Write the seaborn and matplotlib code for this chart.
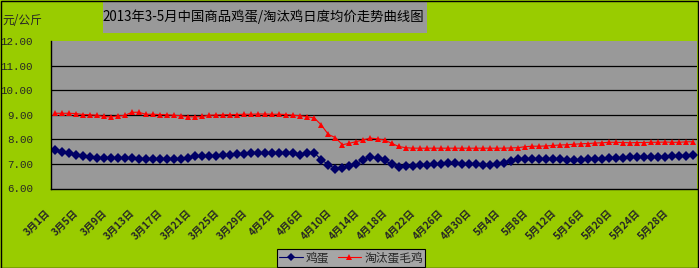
import numpy as np
import pandas as pd
import matplotlib
matplotlib.use("Agg")
import matplotlib.pyplot as plt
from matplotlib.lines import Line2D
from matplotlib.patches import Rectangle
from matplotlib.transforms import ScaledTranslation
import seaborn as sns

# ---------------- data ----------------
egg = [7.55, 7.50, 7.44, 7.37, 7.33, 7.28, 7.23, 7.26, 7.26, 7.26,
       7.25, 7.23, 7.22, 7.22, 7.22, 7.20, 7.19, 7.18, 7.19, 7.23,
       7.31, 7.33, 7.33, 7.34, 7.37, 7.37, 7.40, 7.42, 7.43, 7.45,
       7.46, 7.46, 7.46, 7.46, 7.44, 7.37, 7.44, 7.45, 7.17, 6.97,
       6.80, 6.82, 6.90, 7.01, 7.17, 7.27, 7.24, 7.15, 6.98, 6.87,
       6.90, 6.92, 6.95, 6.97, 7.00, 7.01, 7.02, 7.02, 7.01, 7.00,
       6.98, 6.97, 6.95, 6.98, 7.05, 7.12, 7.20, 7.21, 7.21, 7.21,
       7.20, 7.20, 7.19, 7.17, 7.16, 7.17, 7.18, 7.20, 7.22, 7.24,
       7.25, 7.26, 7.27, 7.28, 7.28, 7.29, 7.30, 7.30, 7.31, 7.32,
       7.33, 7.35]
hen = [9.06, 9.06, 9.06, 9.05, 9.01, 9.00, 8.98, 8.93, 8.91, 8.95,
       8.97, 9.10, 9.10, 9.02, 9.02, 9.01, 9.00, 8.98, 8.96, 8.92,
       8.91, 8.93, 8.98, 8.99, 9.00, 9.00, 9.01, 9.02, 9.02, 9.03,
       9.03, 9.02, 9.02, 9.01, 8.98, 8.96, 8.92, 8.87, 8.58, 8.20,
       8.07, 7.78, 7.84, 7.91, 7.98, 8.05, 8.02, 7.97, 7.84, 7.71,
       7.66, 7.64, 7.64, 7.64, 7.64, 7.64, 7.64, 7.64, 7.64, 7.64,
       7.64, 7.64, 7.64, 7.64, 7.64, 7.65, 7.66, 7.70, 7.72, 7.72,
       7.73, 7.75, 7.77, 7.78, 7.80, 7.82, 7.83, 7.85, 7.86, 7.88,
       7.88, 7.87, 7.86, 7.87, 7.87, 7.88, 7.88, 7.89, 7.88, 7.88,
       7.90, 7.90]
tick_labels = ["3月1日", "3月5日", "3月9日", "3月13日", "3月17日", "3月21日",
               "3月25日", "3月29日", "4月2日", "4月6日", "4月10日", "4月14日",
               "4月18日", "4月22日", "4月26日", "4月30日", "5月4日", "5月8日",
               "5月12日", "5月16日", "5月20日", "5月24日", "5月28日"]
series_names = ["鸡蛋", "淘汰蛋毛鸡"]
title = "2013年3-5月中国商品鸡蛋/淘汰鸡日度均价走势曲线图"
unit = "元/公斤"

n = len(egg)
df = pd.DataFrame({
    "idx": list(range(n)) * 2,
    "price": egg + hen,
    "series": [series_names[0]] * n + [series_names[1]] * n,
})

# ---------------- style ----------------
sns.set_style("white")
plt.rcParams["font.family"] = ["Noto Sans CJK SC", "DejaVu Sans"]

GREEN = "#99CC00"
GRAY = "#999999"
BLUE = "#000066"
RED = "#FF0000"

W, H = 699, 268
fig = plt.figure(figsize=(W / 100, H / 100), dpi=100, facecolor=GREEN)
ax = fig.add_axes([51 / W, 1 - 188.5 / H, 646 / W, (188.5 - 41) / H])
ax.set_facecolor(GRAY)

sns.lineplot(data=df, x="idx", y="price", hue="series", style="series",
             palette={series_names[0]: BLUE, series_names[1]: RED},
             markers={series_names[0]: "D", series_names[1]: "^"},
             dashes=False, markersize=5, markeredgewidth=0,
             linewidth=0.8, legend=False, ax=ax)

ax.set_xlim(-0.5, n - 0.5)
ax.set_ylim(6, 12)
ax.set_yticks(np.arange(6, 12.01, 1))
ax.set_yticklabels([f"{v:.2f}" for v in np.arange(6, 12.01, 1)],
                   fontfamily="Liberation Mono", fontsize=7.8)
ax.tick_params(axis="y", length=0, pad=13)
for yv in range(7, 12):
    ax.axhline(yv, color="black", lw=0.9, zorder=0.5)

ax.set_xticks(list(range(0, n, 4))[:len(tick_labels)])
ax.set_xticklabels(tick_labels, rotation=45, ha="right", va="top",
                   rotation_mode="anchor", fontsize=7.3, fontweight="bold")
ax.tick_params(axis="x", length=0, pad=14)
off = ScaledTranslation(-9 / 100, 0, fig.dpi_scale_trans)
for lab in ax.get_xticklabels():
    lab.set_transform(lab.get_transform() + off)
ax.set_xticks(np.arange(-0.5, n, 1), minor=True)
ax.tick_params(axis="x", which="minor", direction="in", length=2.5,
               width=0.8, color="black")

ax.set_xlabel("")
ax.set_ylabel("")
for s in ["top", "right"]:
    ax.spines[s].set_visible(False)
for s in ["left", "bottom"]:
    ax.spines[s].set_color("black")
    ax.spines[s].set_linewidth(1)

# title box
fig.patches.append(Rectangle((103 / W, 1 - 33 / H), 324 / W, 32 / H,
                             transform=fig.transFigure, facecolor=GRAY,
                             edgecolor="none", zorder=0))
fig.text(263 / W, 1 - 17 / H, title, ha="center", va="center",
         fontsize=9.6, color="black")
fig.text(2 / W, 1 - 20 / H, unit, ha="left", va="center", fontsize=8.5)

# legend
handles = [Line2D([], [], color=BLUE, marker="D", markersize=4, lw=0.8,
                  markeredgewidth=0),
           Line2D([], [], color=RED, marker="^", markersize=4.5, lw=0.8,
                  markeredgewidth=0)]
leg = fig.legend(handles, series_names, loc="lower left",
                 bbox_to_anchor=(277 / W, 1.5 / H), ncol=2, fontsize=8.5,
                 frameon=True, fancybox=False, edgecolor="black",
                 facecolor="#A6A6A6", framealpha=1, borderpad=0.2,
                 handlelength=2.0, handletextpad=0.25, columnspacing=0.7,
                 borderaxespad=0)
leg.get_frame().set_linewidth(0.8)

# figure border
fig.patches.append(Rectangle((0.5 / W, 0.5 / H), (W - 1.5) / W, (H - 1.5) / H,
                             transform=fig.transFigure, facecolor="none",
                             edgecolor="black", lw=1, zorder=10))

fig.savefig("out.png", dpi=100, facecolor=GREEN)
